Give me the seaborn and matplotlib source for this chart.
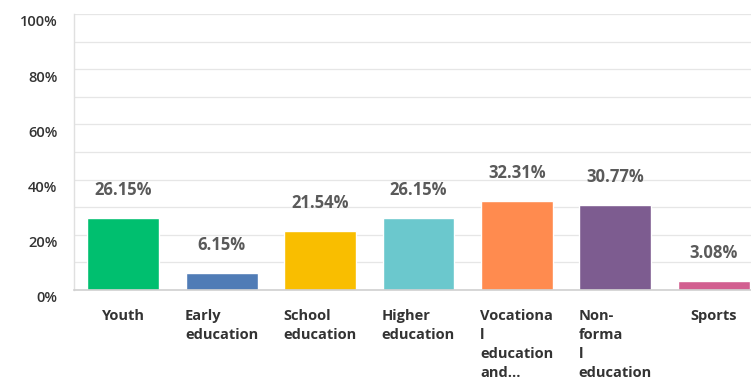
import matplotlib
matplotlib.use("Agg")
import matplotlib.pyplot as plt
from matplotlib.transforms import ScaledTranslation, blended_transform_factory
import seaborn as sns
import pandas as pd

categories = ["Youth", "Early education", "School education", "Higher education",
              "Vocational education and...", "Non-formal education", "Sports"]
wrapped_labels = ["Youth", "Early\neducation", "School\neducation", "Higher\neducation",
                  "Vocationa\nl\neducation\nand...", "Non-\nforma\nl\neducation", "Sports"]
values = [26.15, 6.15, 21.54, 26.15, 32.31, 30.77, 3.08]
colors = ["#00BF6F", "#507CB6", "#F9BE00", "#6BC8CD", "#FF8B4F", "#7D5C90", "#D25F90"]
y_ticks = [0, 20, 40, 60, 80, 100]

sns.set_style("white")
plt.rcParams["font.family"] = ["Open Sans", "DejaVu Sans"]

df = pd.DataFrame({"category": categories, "value": values})

W, H = 751, 382
fig = plt.figure(figsize=(W / 100, H / 100), dpi=100)
ax = fig.add_axes([74 / W, (H - 290) / H, (763 - 74) / W, 276 / H])

sns.barplot(data=df, x="category", y="value", hue="category", palette=colors,
            width=0.73, legend=False, ax=ax, saturation=1)

ax.set_ylim(0, 100)
ax.set_xlim(-0.5, 6.5)
ax.set_yticks(y_ticks)
ax.set_yticklabels([f"{t}%" for t in y_ticks])
ax.set_yticks(range(10, 100, 20), minor=True)
ax.grid(axis="y", which="both", color="#e6e6e6", linewidth=0.9)
ax.set_axisbelow(True)
ax.tick_params(axis="y", which="both", length=0, pad=12, labelsize=10.5, labelcolor="#333333")
for lbl in ax.get_yticklabels():
    lbl.set_fontweight("semibold")
    lbl.set_transform(lbl.get_transform() + ScaledTranslation(0, -7 / 100, fig.dpi_scale_trans))

ax.set_xticks([])
ax.set_xlabel("")
ax.set_ylabel("")
for side in ["top", "right"]:
    ax.spines[side].set_visible(False)
ax.spines["left"].set_color("#e0e0e0")
ax.spines["bottom"].set_color("#d0d0d0")
ax.spines["left"].set_linewidth(1)
ax.spines["bottom"].set_linewidth(1.2)

# value labels above each bar
for i, v in enumerate(values):
    ax.annotate(f"{v:.2f}%", xy=(i, v), xytext=(0, 28 * 0.72), textcoords="offset points",
                ha="center", va="center", fontsize=12, fontweight="bold", color="#5a5a5a")

# category labels centred under each bar, lines left-aligned
trans = blended_transform_factory(ax.transData, ax.transAxes)
for i, lab in enumerate(wrapped_labels):
    ax.text(i, 0, lab, transform=trans + ScaledTranslation(0, -19 / 100, fig.dpi_scale_trans),
            ha="center", va="top", multialignment="left", fontsize=10.5, fontweight="bold",
            color="#333333", linespacing=1.45)

fig.savefig("out.png", dpi=100)
